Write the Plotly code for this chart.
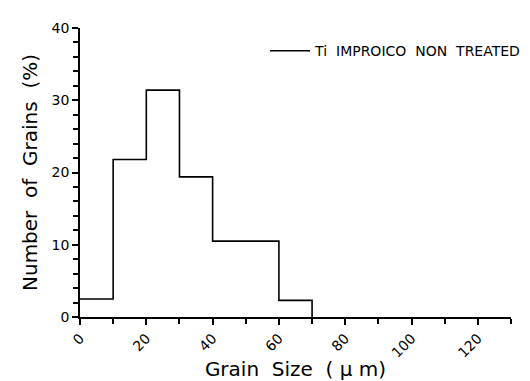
import plotly.graph_objects as go

# Histogram data (grain size bins in µm, percent of grains)
bin_left_edges = [0, 10, 20, 30, 40, 60]
bin_right_end = 70
percent_grains = [2.5, 21.8, 31.4, 19.4, 10.5, 2.3]

x_tick_vals = [0, 20, 40, 60, 80, 100, 120]
x_tick_text = ["0", "20", "40", "60", "80", "100", "120"]
y_tick_vals = [0, 10, 20, 30, 40]
y_tick_text = ["0", "10", "20", "30", "40"]

series_name = "Ti  IMPROICO  NON  TREATED"

xs = bin_left_edges + [bin_right_end]
ys = percent_grains + [0]

FONT = "DejaVu Sans"

fig = go.Figure()
fig.add_trace(go.Scatter(
    x=xs, y=ys, mode="lines", line_shape="hv",
    line=dict(color="black", width=1.6),
    name=series_name, showlegend=True,
))

fig.update_layout(
    width=530, height=381,
    margin=dict(l=72, r=18, t=15, b=71),
    paper_bgcolor="white", plot_bgcolor="white",
    font=dict(family=FONT, color="black", size=14),
    showlegend=True,
    legend=dict(x=1.035, y=0.92, xanchor="right", yanchor="middle",
                bgcolor="rgba(0,0,0,0)", font=dict(size=14, family=FONT),
                itemwidth=40),
)

fig.update_xaxes(
    range=[0, 130], showgrid=False, zeroline=False,
    showline=True, linecolor="black", linewidth=1.6,
    ticks="outside", ticklen=6, tickwidth=1.5, tickcolor="black",
    tickvals=x_tick_vals, ticktext=x_tick_text, tickangle=-45,
    tickfont=dict(size=14),
    minor=dict(dtick=10, ticks="outside", ticklen=5, tickwidth=1.5, tickcolor="black"),
    title=dict(text="Grain  Size  ( μ m)", font=dict(size=20), standoff=2),
)
fig.update_yaxes(
    range=[0, 40], showgrid=False, zeroline=False,
    showline=True, linecolor="black", linewidth=1.6,
    ticks="outside", ticklen=6, tickwidth=1.5, tickcolor="black",
    tickvals=y_tick_vals, ticktext=y_tick_text,
    tickfont=dict(size=14),
    minor=dict(dtick=2, ticks="outside", ticklen=5, tickwidth=1.5, tickcolor="black"),
    title=dict(text="Number  of  Grains  (%)", font=dict(size=20), standoff=9),
)

fig.write_html("out.html")
